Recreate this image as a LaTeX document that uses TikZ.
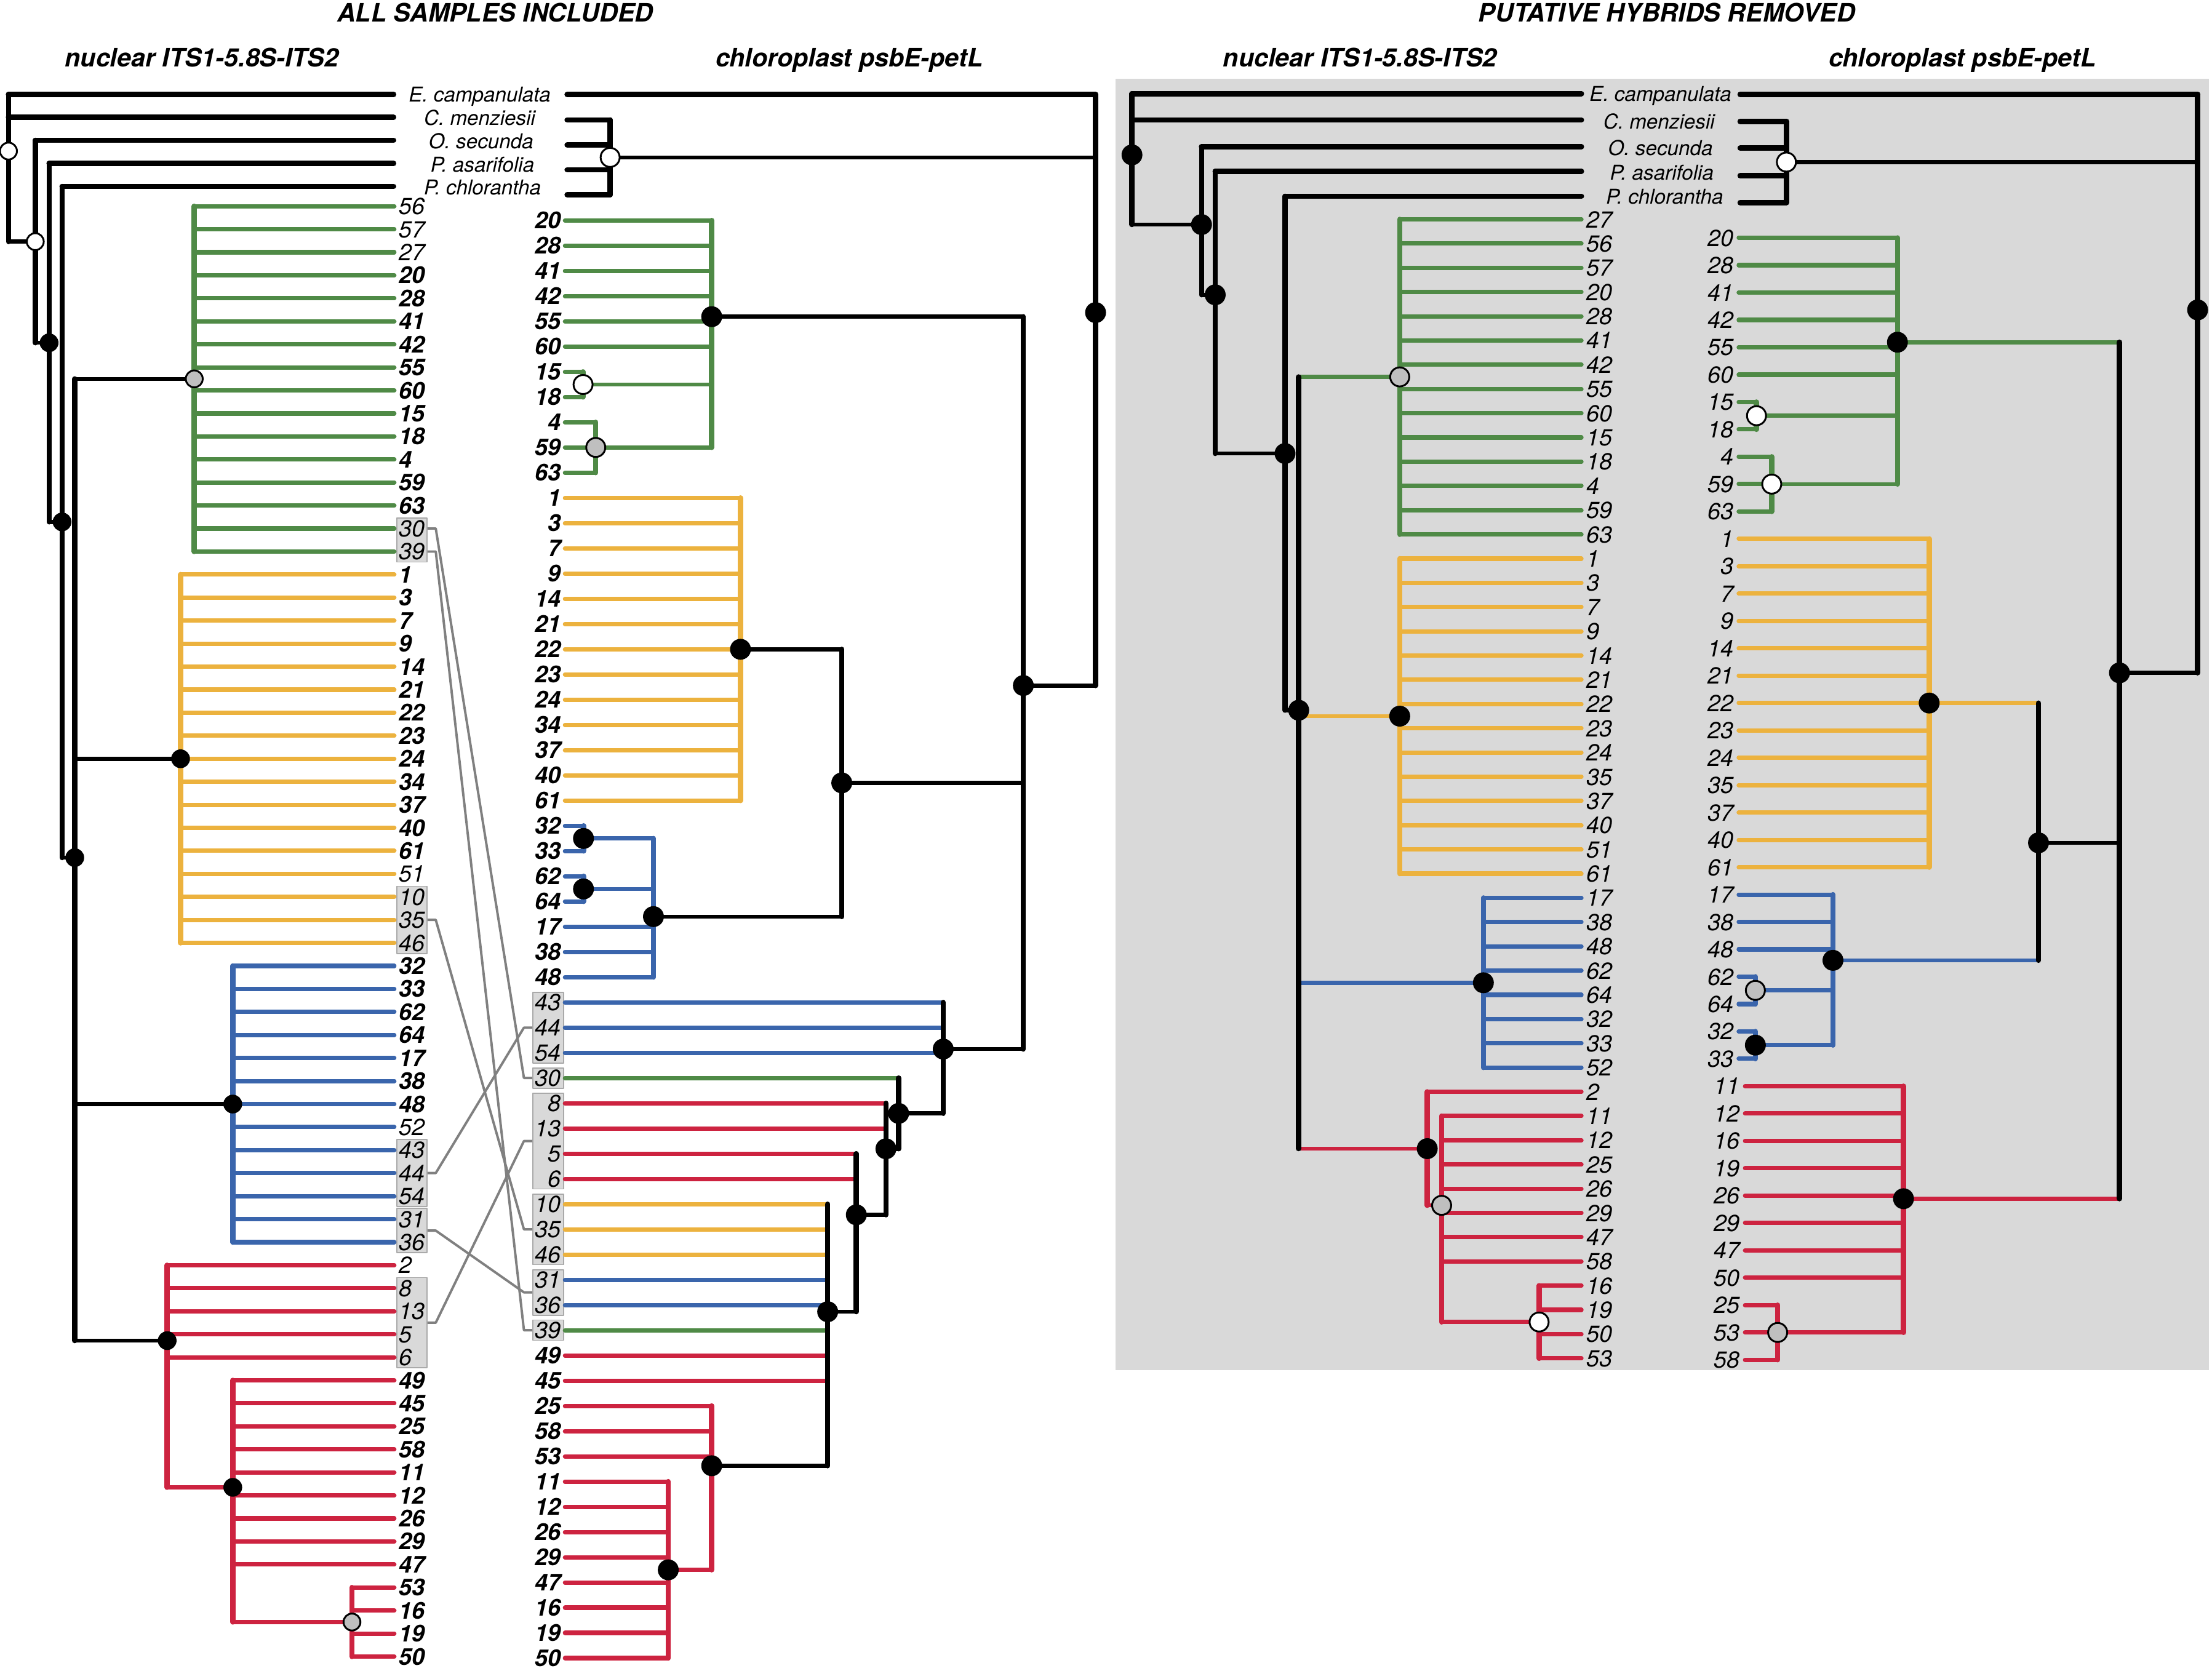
\documentclass[tikz,border=0pt]{standalone}
\usepackage{fontspec}
\setmainfont{TeX Gyre Heros}
\definecolor{grn}{RGB}{79,138,70}
\definecolor{ylw}{RGB}{236,178,62}
\definecolor{blu}{RGB}{58,101,172}
\definecolor{crd}{RGB}{205,35,64}
\definecolor{panel}{RGB}{217,217,217}

\begin{document}
\begin{tikzpicture}[x=1pt,y=-1pt,line cap=round,line join=round,
  tb/.style={font=\fontsize{16.5}{16.5}\selectfont\bfseries\itshape,inner sep=0pt,text height=11.8pt,text depth=0pt},
  tn/.style={font=\fontsize{16.5}{16.5}\selectfont\itshape,inner sep=0pt,text height=11.8pt,text depth=0pt},
  sp/.style={font=\fontsize{14.5}{14.5}\selectfont\itshape,inner sep=0pt,text height=10.4pt,text depth=0pt},
  hd/.style={font=\fontsize{18}{18}\selectfont\bfseries\itshape,inner sep=0pt,anchor=base}]
\tikzstyle{mk} = [circle,draw=black,line width=1.3pt,inner sep=0pt,minimum size=13.5pt]
\tikzstyle{blk} = [mk,fill=black]
\tikzstyle{opn} = [mk,fill=white]
\tikzstyle{gry} = [mk,fill={rgb:black,1;white,3}]
\tikzstyle{sm} = [minimum size=12pt]
\tikzset{tipln/.style={line width=3.1pt},vln/.style={line width=3.7pt},
  inln/.style={line width=2.9pt},ogln/.style={line width=3.8pt},
  grbox/.style={draw={rgb:black,1;white,2},line width=0.8pt,fill=panel,inner sep=0pt,minimum width=21.4pt},
  cnx/.style={draw=gray,line width=1.7pt,line cap=butt}}

\fill[white] (0,0) rectangle (1568,1190);
\useasboundingbox (0,0) rectangle (1568,1190);
\fill[panel] (790.7,56) rectangle (1566,971.2);

% internal nodes, nuclear (all samples)
\coordinate (nLroot) at (6,107.1);
\coordinate (nLo2) at (25,171.3);
\coordinate (nLo3) at (34.8,243);
\coordinate (nLo4) at (44,370);
\coordinate (nLin) at (53,608);
\coordinate (nLg) at (137.7,268.6);
\coordinate (nLy) at (128,537.9);
\coordinate (nLb) at (165,782.7);
\coordinate (nLrd) at (118.5,950.4);
\coordinate (nLrd2) at (165,1054.4);
\coordinate (nLrd3) at (249.5,1149.9);
\coordinate (nLEc) at (279,66.9);
\coordinate (nLCm) at (279,83.2);
\coordinate (nLOs) at (279,99.5);
\coordinate (nLPa) at (279,115.9);
\coordinate (nLPc) at (279,132.2);

% internal nodes, chloroplast (all samples)
\coordinate (cLroot) at (776.6,221.6);
\coordinate (cLout) at (432.5,111.6);
\coordinate (cLtop) at (725.4,486);
\coordinate (cLg) at (504.5,224.5);
\coordinate (cLg1) at (413.3,272.6);
\coordinate (cLg2) at (422.3,317.2);
\coordinate (cLy) at (524.9,460.3);
\coordinate (cLyb) at (596.7,555);
\coordinate (cLb) at (463.2,649.8);
\coordinate (cLb1) at (413.6,594.4);
\coordinate (cLb2) at (413.6,630.2);
\coordinate (cLm1) at (668.6,743.7);
\coordinate (cLm2) at (637,789.3);
\coordinate (cLm3) at (628,814.4);
\coordinate (cLm4) at (607,861.2);
\coordinate (cLm5) at (586.7,929.9);
\coordinate (cLrd) at (504.5,1039.1);
\coordinate (cLrd2) at (473.7,1112.9);
\coordinate (cLEc) at (402,67);
\coordinate (cLCm) at (402,85);
\coordinate (cLOs) at (402,102.8);
\coordinate (cLPa) at (402,120.4);
\coordinate (cLPc) at (402,138.1);

% internal nodes, nuclear (hybrids removed)
\coordinate (nRroot) at (802.4,109.8);
\coordinate (nRo2) at (851.7,159.2);
\coordinate (nRo3) at (861.4,209);
\coordinate (nRo4) at (910.9,321.5);
\coordinate (nRin) at (920.6,503.5);
\coordinate (nRg) at (992.2,267.2);
\coordinate (nRy) at (992.2,507.7);
\coordinate (nRb) at (1051.5,696.7);
\coordinate (nRrd) at (1011.7,814.3);
\coordinate (nRrd2) at (1021.9,854.5);
\coordinate (nRrd3) at (1091,937.2);
\coordinate (nREc) at (1121,66.4);
\coordinate (nRCm) at (1121,85);
\coordinate (nROs) at (1121,104);
\coordinate (nRPa) at (1121,121.4);
\coordinate (nRPc) at (1121,139.1);

% internal nodes, chloroplast (hybrids removed)
\coordinate (cRroot) at (1557.8,219.7);
\coordinate (cRout) at (1266.3,114.9);
\coordinate (cRtop) at (1502.4,477);
\coordinate (cRg) at (1345,242.6);
\coordinate (cRg1) at (1245.1,294.7);
\coordinate (cRg2) at (1255.9,343.2);
\coordinate (cRy) at (1367.5,498.4);
\coordinate (cRyb) at (1445,597.5);
\coordinate (cRb) at (1299.3,680.8);
\coordinate (cRb1) at (1244.3,702.1);
\coordinate (cRb2) at (1244.3,740.9);
\coordinate (cRrd) at (1349.3,849.8);
\coordinate (cRrd2) at (1260.1,944.6);
\coordinate (cREc) at (1233.5,66.9);
\coordinate (cRCm) at (1233.5,86.1);
\coordinate (cROs) at (1233.5,105);
\coordinate (cRPa) at (1233.5,124.6);
\coordinate (cRPc) at (1233.5,143.6);

% grey boxes of the putative hybrids
\node[grbox,minimum height=31.3pt] (bxN1) at (292,382.8) {};
\node[grbox,minimum height=47.6pt] (bxN2) at (292,652.1) {};
\node[grbox,minimum height=47.6pt] (bxN3) at (292,831.6) {};
\node[grbox,minimum height=31.3pt] (bxN4) at (292,872.4) {};
\node[grbox,minimum height=64pt] (bxN5) at (292,937.7) {};
\node[grbox,minimum width=22pt,minimum height=50pt] (bxC1) at (388.7,728.5) {};
\node[grbox,minimum width=22pt,minimum height=14.4pt] (bxC2) at (388.7,764.2) {};
\node[grbox,minimum width=22pt,minimum height=68pt] (bxC3) at (388.7,808.9) {};
\node[grbox,minimum width=22pt,minimum height=50pt] (bxC4) at (388.7,871.5) {};
\node[grbox,minimum width=22pt,minimum height=32.3pt] (bxC5) at (388.7,916.2) {};
\node[grbox,minimum width=22pt,minimum height=14.4pt] (bxC6) at (388.7,943) {};

% tips
\foreach \t/\c/\p/\f [count=\i from 0] in {56/grn/nLg/tn,57/grn/nLg/tn,27/grn/nLg/tn,20/grn/nLg/tb,28/grn/nLg/tb,41/grn/nLg/tb,42/grn/nLg/tb,55/grn/nLg/tb,60/grn/nLg/tb,15/grn/nLg/tb,18/grn/nLg/tb,4/grn/nLg/tb,59/grn/nLg/tb,63/grn/nLg/tb,30/grn/nLg/tn,39/grn/nLg/tn,%
1/ylw/nLy/tb,3/ylw/nLy/tb,7/ylw/nLy/tb,9/ylw/nLy/tb,14/ylw/nLy/tb,21/ylw/nLy/tb,22/ylw/nLy/tb,23/ylw/nLy/tb,24/ylw/nLy/tb,34/ylw/nLy/tb,37/ylw/nLy/tb,40/ylw/nLy/tb,61/ylw/nLy/tb,51/ylw/nLy/tn,10/ylw/nLy/tn,35/ylw/nLy/tn,46/ylw/nLy/tn,%
32/blu/nLb/tb,33/blu/nLb/tb,62/blu/nLb/tb,64/blu/nLb/tb,17/blu/nLb/tb,38/blu/nLb/tb,48/blu/nLb/tb,52/blu/nLb/tn,43/blu/nLb/tn,44/blu/nLb/tn,54/blu/nLb/tn,31/blu/nLb/tn,36/blu/nLb/tn,%
2/crd/nLrd/tn,8/crd/nLrd/tn,13/crd/nLrd/tn,5/crd/nLrd/tn,6/crd/nLrd/tn,49/crd/nLrd2/tb,45/crd/nLrd2/tb,25/crd/nLrd2/tb,58/crd/nLrd2/tb,11/crd/nLrd2/tb,12/crd/nLrd2/tb,26/crd/nLrd2/tb,29/crd/nLrd2/tb,47/crd/nLrd2/tb,53/crd/nLrd3/tb,16/crd/nLrd3/tb,19/crd/nLrd3/tb,50/crd/nLrd3/tb}{
  \coordinate (nL\t) at (279.5,{146.2+16.32*\i});
  \draw[tipln,\c] (\p |- nL\t) -- (nL\t);
  \node[\f,anchor=west] (lnL\t) at (282.5,{146.2+16.32*\i}) {\t};
}
\foreach \t/\c/\p/\f [count=\i from 0] in {20/grn/cLg/tb,28/grn/cLg/tb,41/grn/cLg/tb,42/grn/cLg/tb,55/grn/cLg/tb,60/grn/cLg/tb,15/grn/cLg1/tb,18/grn/cLg1/tb,4/grn/cLg2/tb,59/grn/cLg2/tb,63/grn/cLg2/tb,%
1/ylw/cLy/tb,3/ylw/cLy/tb,7/ylw/cLy/tb,9/ylw/cLy/tb,14/ylw/cLy/tb,21/ylw/cLy/tb,22/ylw/cLy/tb,23/ylw/cLy/tb,24/ylw/cLy/tb,34/ylw/cLy/tb,37/ylw/cLy/tb,40/ylw/cLy/tb,61/ylw/cLy/tb,%
32/blu/cLb1/tb,33/blu/cLb1/tb,62/blu/cLb2/tb,64/blu/cLb2/tb,17/blu/cLb/tb,38/blu/cLb/tb,48/blu/cLb/tb,%
43/blu/cLm1/tn,44/blu/cLm1/tn,54/blu/cLm1/tn,30/grn/cLm2/tn,8/crd/cLm3/tn,13/crd/cLm3/tn,5/crd/cLm4/tn,6/crd/cLm4/tn,%
10/ylw/cLm5/tn,35/ylw/cLm5/tn,46/ylw/cLm5/tn,31/blu/cLm5/tn,36/blu/cLm5/tn,39/grn/cLm5/tn,49/crd/cLm5/tb,45/crd/cLm5/tb,%
25/crd/cLrd/tb,58/crd/cLrd/tb,53/crd/cLrd/tb,11/crd/cLrd2/tb,12/crd/cLrd2/tb,26/crd/cLrd2/tb,29/crd/cLrd2/tb,47/crd/cLrd2/tb,16/crd/cLrd2/tb,19/crd/cLrd2/tb,50/crd/cLrd2/tb}{
  \coordinate (cL\t) at (400.5,{156.3+17.88*\i});
  \draw[tipln,\c] (\p |- cL\t) -- (cL\t);
  \node[\f,anchor=east] (lcL\t) at (397.8,{156.3+17.88*\i}) {\t};
}
\foreach \t/\c/\p [count=\i from 0] in {27/grn/nRg,56/grn/nRg,57/grn/nRg,20/grn/nRg,28/grn/nRg,41/grn/nRg,42/grn/nRg,55/grn/nRg,60/grn/nRg,15/grn/nRg,18/grn/nRg,4/grn/nRg,59/grn/nRg,63/grn/nRg,%
1/ylw/nRy,3/ylw/nRy,7/ylw/nRy,9/ylw/nRy,14/ylw/nRy,21/ylw/nRy,22/ylw/nRy,23/ylw/nRy,24/ylw/nRy,35/ylw/nRy,37/ylw/nRy,40/ylw/nRy,51/ylw/nRy,61/ylw/nRy,%
17/blu/nRb,38/blu/nRb,48/blu/nRb,62/blu/nRb,64/blu/nRb,32/blu/nRb,33/blu/nRb,52/blu/nRb,%
2/crd/nRrd,11/crd/nRrd2,12/crd/nRrd2,25/crd/nRrd2,26/crd/nRrd2,29/crd/nRrd2,47/crd/nRrd2,58/crd/nRrd2,16/crd/nRrd3,19/crd/nRrd3,50/crd/nRrd3,53/crd/nRrd3}{
  \coordinate (nR\t) at (1121,{155.5+17.18*\i});
  \draw[tipln,\c] (\p |- nR\t) -- (nR\t);
  \node[tn,anchor=west] (lnR\t) at (1124.5,{155.5+17.18*\i}) {\t};
}
\foreach \t/\c/\p [count=\i from 0] in {20/grn/cRg,28/grn/cRg,41/grn/cRg,42/grn/cRg,55/grn/cRg,60/grn/cRg,15/grn/cRg1,18/grn/cRg1,4/grn/cRg2,59/grn/cRg2,63/grn/cRg2,%
1/ylw/cRy,3/ylw/cRy,7/ylw/cRy,9/ylw/cRy,14/ylw/cRy,21/ylw/cRy,22/ylw/cRy,23/ylw/cRy,24/ylw/cRy,35/ylw/cRy,37/ylw/cRy,40/ylw/cRy,61/ylw/cRy,%
17/blu/cRb,38/blu/cRb,48/blu/cRb,62/blu/cRb1,64/blu/cRb1,32/blu/cRb2,33/blu/cRb2}{
  \coordinate (cR\t) at (1232.5,{168.6+19.4*\i});
  \draw[tipln,\c] (\p |- cR\t) -- (cR\t);
  \node[tn,anchor=east] (lcR\t) at (1229,{168.6+19.4*\i}) {\t};
}
\foreach \t/\c/\p [count=\i from 31] in {11/crd/cRrd,12/crd/cRrd,16/crd/cRrd,19/crd/cRrd,26/crd/cRrd,29/crd/cRrd,47/crd/cRrd,50/crd/cRrd,25/crd/cRrd2,53/crd/cRrd2,58/crd/cRrd2}{
  \coordinate (cR\t) at (1237,{168.6+19.4*\i});
  \draw[tipln,\c] (\p |- cR\t) -- (cR\t);
  \node[tn,anchor=east] (lcR\t) at (1233.5,{168.6+19.4*\i}) {\t};
}

% links between the two trees
\draw[cnx] (bxN1.east |- nL30) -- ++(5.8,0) -- ([xshift=-5.9pt]bxC2.west) -- (bxC2.west);
\draw[cnx] (bxN1.east |- nL39) -- ++(5.8,0) -- ([xshift=-5.9pt]bxC6.west) -- (bxC6.west);
\draw[cnx] (bxN2.east) -- ++(5.8,0) -- ([xshift=-5.9pt]bxC4.west) -- (bxC4.west);
\draw[cnx] (bxN3.east) -- ++(5.8,0) -- ([xshift=-5.9pt]bxC1.west) -- (bxC1.west);
\draw[cnx] (bxN4.east) -- ++(5.8,0) -- ([xshift=-5.9pt]bxC5.west) -- (bxC5.west);
\draw[cnx] (bxN5.east) -- ++(5.8,0) -- ([xshift=-5.9pt]bxC3.west) -- (bxC3.west);

% outgroups
\draw[ogln] (nLroot |- nLEc) -- (nLEc);
\draw[ogln] (nLroot |- nLCm) -- (nLCm);
\draw[ogln] (nLo2 |- nLOs) -- (nLOs);
\draw[ogln] (nLo3 |- nLPa) -- (nLPa);
\draw[ogln] (nLo4 |- nLPc) -- (nLPc);
\draw[ogln] (cLroot |- cLEc) -- (cLEc);
\draw[ogln] (cLout |- cLCm) -- (cLCm);
\draw[ogln] (cLout |- cLOs) -- (cLOs);
\draw[ogln] (cLout |- cLPa) -- (cLPa);
\draw[ogln] (cLout |- cLPc) -- (cLPc);
\draw[ogln] (nRroot |- nREc) -- (nREc);
\draw[ogln] (nRroot |- nRCm) -- (nRCm);
\draw[ogln] (nRo2 |- nROs) -- (nROs);
\draw[ogln] (nRo3 |- nRPa) -- (nRPa);
\draw[ogln] (nRo4 |- nRPc) -- (nRPc);
\draw[ogln] (cRroot |- cREc) -- (cREc);
\draw[ogln] (cRout |- cRCm) -- (cRCm);
\draw[ogln] (cRout |- cROs) -- (cROs);
\draw[ogln] (cRout |- cRPa) -- (cRPa);
\draw[ogln] (cRout |- cRPc) -- (cRPc);

% inner branches
\draw[inln] (nLroot |- nLo2) -- (nLo2);
\draw[inln] (nLo2 |- nLo3) -- (nLo3);
\draw[inln] (nLo3 |- nLo4) -- (nLo4);
\draw[inln] (nLo4 |- nLin) -- (nLin);
\draw[inln] (nLin |- nLg) -- (nLg);
\draw[inln] (nLin |- nLy) -- (nLy);
\draw[inln] (nLin |- nLb) -- (nLb);
\draw[inln] (nLin |- nLrd) -- (nLrd);
\draw[inln,crd] (nLrd |- nLrd2) -- (nLrd2);
\draw[inln,crd] (nLrd2 |- nLrd3) -- (nLrd3);

\draw[inln] (cLroot |- cLout) -- (cLout);
\draw[inln] (cLroot |- cLtop) -- (cLtop);
\draw[inln] (cLtop |- cLg) -- (cLg);
\draw[inln] (cLtop |- cLyb) -- (cLyb);
\draw[inln] (cLtop |- cLm1) -- (cLm1);
\draw[inln,grn] (cLg |- cLg1) -- (cLg1);
\draw[inln,grn] (cLg |- cLg2) -- (cLg2);
\draw[inln] (cLyb |- cLy) -- (cLy);
\draw[inln] (cLyb |- cLb) -- (cLb);
\draw[inln,blu] (cLb |- cLb1) -- (cLb1);
\draw[inln,blu] (cLb |- cLb2) -- (cLb2);
\draw[inln] (cLm1 |- cLm2) -- (cLm2);
\draw[inln] (cLm2 |- cLm3) -- (cLm3);
\draw[inln] (cLm3 |- cLm4) -- (cLm4);
\draw[inln] (cLm4 |- cLm5) -- (cLm5);
\draw[inln] (cLm5 |- cLrd) -- (cLrd);
\draw[inln,crd] (cLrd |- cLrd2) -- (cLrd2);

\draw[inln] (nRroot |- nRo2) -- (nRo2);
\draw[inln] (nRo2 |- nRo3) -- (nRo3);
\draw[inln] (nRo3 |- nRo4) -- (nRo4);
\draw[inln] (nRo4 |- nRin) -- (nRin);
\draw[inln,grn] (nRin |- nRg) -- (nRg);
\draw[inln,ylw] (nRin |- nRy) -- (nRy);
\draw[inln,blu] (nRin |- nRb) -- (nRb);
\draw[inln,crd] (nRin |- nRrd) -- (nRrd);
\draw[inln,crd] (nRrd |- nRrd2) -- (nRrd2);
\draw[inln,crd] (nRrd2 |- nRrd3) -- (nRrd3);

\draw[inln] (cRroot |- cRout) -- (cRout);
\draw[inln] (cRroot |- cRtop) -- (cRtop);
\draw[inln] (cRtop |- cRyb) -- (cRyb);
\draw[inln,grn] (cRtop |- cRg) -- (cRg);
\draw[inln,crd] (cRtop |- cRrd) -- (cRrd);
\draw[inln,ylw] (cRyb |- cRy) -- (cRy);
\draw[inln,blu] (cRyb |- cRb) -- (cRb);
\draw[inln,grn] (cRg |- cRg1) -- (cRg1);
\draw[inln,grn] (cRg |- cRg2) -- (cRg2);
\draw[inln,blu] (cRb |- cRb1) -- (cRb1);
\draw[inln,blu] (cRb |- cRb2) -- (cRb2);
\draw[inln,crd] (cRrd |- cRrd2) -- (cRrd2);

% verticals
\draw[vln] (nLroot |- nLEc) -- (nLroot |- nLo2);
\draw[vln] (nLo2 |- nLOs) -- (nLo2 |- nLo3);
\draw[vln] (nLo3 |- nLPa) -- (nLo3 |- nLo4);
\draw[vln] (nLo4 |- nLPc) -- (nLo4 |- nLin);
\draw[vln] (nLin |- nLg) -- (nLin |- nLrd);
\draw[vln,grn] (nLg |- nL56) -- (nLg |- nL39);
\draw[vln,ylw] (nLy |- nL1) -- (nLy |- nL46);
\draw[vln,blu] (nLb |- nL32) -- (nLb |- nL36);
\draw[vln,crd] (nLrd |- nL2) -- (nLrd |- nLrd2);
\draw[vln,crd] (nLrd2 |- nL49) -- (nLrd2 |- nLrd3);
\draw[vln,crd] (nLrd3 |- nL53) -- (nLrd3 |- nL50);

\draw[vln] (cLroot |- cLEc) -- (cLroot |- cLtop);
\draw[vln] (cLout |- cLCm) -- (cLout |- cLPc);
\draw[vln] (cLtop |- cLg) -- (cLtop |- cLm1);
\draw[vln,grn] (cLg |- cL20) -- (cLg |- cLg2);
\draw[vln,grn] (cLg1 |- cL15) -- (cLg1 |- cL18);
\draw[vln,grn] (cLg2 |- cL4) -- (cLg2 |- cL63);
\draw[vln,ylw] (cLy |- cL1) -- (cLy |- cL61);
\draw[vln] (cLyb |- cLy) -- (cLyb |- cLb);
\draw[vln,blu] (cLb |- cLb1) -- (cLb |- cL48);
\draw[vln,blu] (cLb1 |- cL32) -- (cLb1 |- cL33);
\draw[vln,blu] (cLb2 |- cL62) -- (cLb2 |- cL64);
\draw[vln] (cLm1 |- cL43) -- (cLm1 |- cLm2);
\draw[vln] (cLm2 |- cL30) -- (cLm2 |- cLm3);
\draw[vln] (cLm3 |- cL8) -- (cLm3 |- cLm4);
\draw[vln] (cLm4 |- cL5) -- (cLm4 |- cLm5);
\draw[vln] (cLm5 |- cL10) -- (cLm5 |- cLrd);
\draw[vln,crd] (cLrd |- cL25) -- (cLrd |- cLrd2);
\draw[vln,crd] (cLrd2 |- cL11) -- (cLrd2 |- cL50);

\draw[vln] (nRroot |- nREc) -- (nRroot |- nRo2);
\draw[vln] (nRo2 |- nROs) -- (nRo2 |- nRo3);
\draw[vln] (nRo3 |- nRPa) -- (nRo3 |- nRo4);
\draw[vln] (nRo4 |- nRPc) -- (nRo4 |- nRin);
\draw[vln] (nRin |- nRg) -- (nRin |- nRrd);
\draw[vln,grn] (nRg |- nR27) -- (nRg |- nR63);
\draw[vln,ylw] (nRy |- nR1) -- (nRy |- nR61);
\draw[vln,blu] (nRb |- nR17) -- (nRb |- nR52);
\draw[vln,crd] (nRrd |- nR2) -- (nRrd |- nRrd2);
\draw[vln,crd] (nRrd2 |- nR11) -- (nRrd2 |- nRrd3);
\draw[vln,crd] (nRrd3 |- nR16) -- (nRrd3 |- nR53);

\draw[vln] (cRroot |- cREc) -- (cRroot |- cRtop);
\draw[vln] (cRout |- cRCm) -- (cRout |- cRPc);
\draw[vln] (cRtop |- cRg) -- (cRtop |- cRrd);
\draw[vln,grn] (cRg |- cR20) -- (cRg |- cRg2);
\draw[vln,grn] (cRg1 |- cR15) -- (cRg1 |- cR18);
\draw[vln,grn] (cRg2 |- cR4) -- (cRg2 |- cR63);
\draw[vln,ylw] (cRy |- cR1) -- (cRy |- cR61);
\draw[vln] (cRyb |- cRy) -- (cRyb |- cRb);
\draw[vln,blu] (cRb |- cR17) -- (cRb |- cRb2);
\draw[vln,blu] (cRb1 |- cR62) -- (cRb1 |- cR64);
\draw[vln,blu] (cRb2 |- cR32) -- (cRb2 |- cR33);
\draw[vln,crd] (cRrd |- cR11) -- (cRrd |- cRrd2);
\draw[vln,crd] (cRrd2 |- cR25) -- (cRrd2 |- cR58);

% node support markers
\foreach \n/\s in {nLroot/opn,nLo2/opn,nLo3/blk,nLo4/blk,nLin/blk,nLg/gry,nLy/blk,nLb/blk,nLrd/blk,nLrd2/blk,nLrd3/gry}
  \node[\s,sm] (m\n) at (\n) {};
\foreach \n/\s in {cLroot/blk,cLout/opn,cLtop/blk,cLg/blk,cLg1/opn,cLg2/gry,cLy/blk,cLyb/blk,cLb/blk,cLb1/blk,cLb2/blk,cLm1/blk,cLm2/blk,cLm3/blk,cLm4/blk,cLm5/blk,cLrd/blk,cLrd2/blk,%
nRroot/blk,nRo2/blk,nRo3/blk,nRo4/blk,nRin/blk,nRg/gry,nRy/blk,nRb/blk,nRrd/blk,nRrd2/gry,nRrd3/opn,%
cRroot/blk,cRout/opn,cRtop/blk,cRg/blk,cRg1/opn,cRg2/opn,cRy/blk,cRyb/blk,cRb/blk,cRb1/gry,cRb2/blk,cRrd/blk,cRrd2/gry}
  \node[\s] (m\n) at (\n) {};

% species names
\node[sp] (spEc) at (340,66.9) {E. campanulata};
\node[sp] (spCm) at (340,83.4) {C. menziesii};
\node[sp] (spOs) at (341,100) {O. secunda};
\node[sp] (spPa) at (342,116.6) {P. asarifolia};
\node[sp] (spPc) at (342,133) {P. chlorantha};
\node[sp] (rspEc) at (1177,66.4) {E. campanulata};
\node[sp] (rspCm) at (1176,86) {C. menziesii};
\node[sp] (rspOs) at (1177,105) {O. secunda};
\node[sp] (rspPa) at (1178,122.5) {P. asarifolia};
\node[sp] (rspPc) at (1180,139.5) {P. chlorantha};

% headings
\node[hd] (hAll) at (351,15.5) {ALL SAMPLES INCLUDED};
\node[hd] (hNucL) at (143,47.5) {nuclear ITS1-5.8S-ITS2};
\node[hd] (hCpL) at (602,47.5) {chloroplast psbE-petL};
\node[hd] (hHyb) at (1181.5,15.5) {PUTATIVE HYBRIDS REMOVED};
\node[hd] (hNucR) at (964,47.5) {nuclear ITS1-5.8S-ITS2};
\node[hd] (hCpR) at (1391,47.5) {chloroplast psbE-petL};
\end{tikzpicture}
\end{document}
